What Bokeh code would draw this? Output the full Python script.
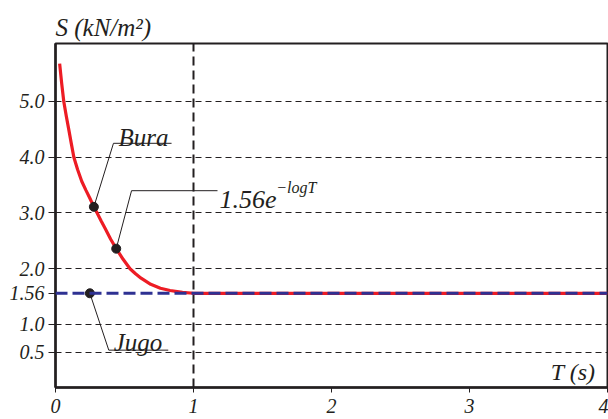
from bokeh.plotting import figure
from bokeh.models import Range1d, FixedTicker, Label, Span
from bokeh.embed import file_html
from bokeh.resources import INLINE

# ---- data ----
curve_T = [0.03, 0.045, 0.06, 0.078, 0.096, 0.115, 0.133, 0.16, 0.19, 0.22, 0.25, 0.278,
           0.30, 0.33, 0.36, 0.40, 0.44, 0.49, 0.54, 0.58, 0.62, 0.69, 0.76, 0.83, 0.92, 1.0, 4.0]
curve_S = [5.68, 5.32, 5.0, 4.74, 4.50, 4.24, 4.0, 3.78, 3.57, 3.41, 3.26, 3.11,
           3.01, 2.86, 2.72, 2.53, 2.36, 2.17, 2.0, 1.91, 1.83, 1.72, 1.65, 1.61, 1.575, 1.56, 1.56]
jugo_S = 1.56

x_ticks = [0, 1, 2, 3, 4]
x_tick_labels = ["0", "1", "2", "3", "4"]
y_ticks = [0.5, 1.0, 1.56, 2.0, 3.0, 4.0, 5.0]
y_tick_labels = ["0.5", "1.0", "1.56", "2.0", "3.0", "4.0", "5.0"]
grid_S = [0.5, 1.0, 2.0, 3.0, 4.0, 5.0]
grid_T = [1]

marker_T = [0.278, 0.44, 0.249]
marker_S = [3.11, 2.36, 1.56]

# annotation leaders (data coords)
bura_leader_T = [0.278, 0.42, 0.841]
bura_leader_S = [3.11, 4.25, 4.25]
formula_leader_T = [0.44, 0.551, 1.174]
formula_leader_S = [2.36, 3.40, 3.40]
jugo_leader_T = [0.249, 0.386, 0.817]
jugo_leader_S = [1.56, 0.54, 0.54]

FONT = "Liberation Serif"
INK = "#231f20"
RED = "#ed1c24"
BLUE = "#2e3192"

p = figure(width=608, height=419, output_backend="svg", toolbar_location=None,
           x_range=Range1d(0, 4), y_range=Range1d(-0.13, 6.04),
           min_border_left=55, min_border_right=1, min_border_top=43, min_border_bottom=32)
p.background_fill_color = "white"
p.border_fill_color = "white"
p.outline_line_color = INK
p.outline_line_width = 2

# title
p.title.text = "S (kN/m²)"
p.title.align = "left"
p.title.text_font = FONT
p.title.text_font_style = "italic"
p.title.text_font_size = "25px"
p.title.text_color = INK
p.title.offset = 0
p.title.standoff = 6

# axes
for ax in (p.xaxis[0], p.yaxis[0]):
    ax.axis_line_color = INK
    ax.axis_line_width = 2.5
    ax.major_tick_line_color = INK
    ax.major_tick_line_width = 1
    ax.major_tick_in = 0
    ax.minor_tick_line_color = None
    ax.major_label_text_font = FONT
    ax.major_label_text_font_style = "italic"
    ax.major_label_text_font_size = "20px"
    ax.major_label_text_color = INK

p.xaxis.ticker = FixedTicker(ticks=x_ticks)
p.xaxis.major_label_overrides = {t: l for t, l in zip(x_ticks, x_tick_labels)}
p.xaxis.major_tick_out = 5
p.xaxis.major_label_standoff = 6

p.yaxis.ticker = FixedTicker(ticks=y_ticks)
p.yaxis.major_label_overrides = {t: l for t, l in zip(y_ticks, y_tick_labels)}
p.yaxis.major_tick_out = 7
p.yaxis.major_label_standoff = 4

# grids
p.ygrid.ticker = FixedTicker(ticks=grid_S)
p.ygrid.grid_line_color = INK
p.ygrid.grid_line_width = 1
p.ygrid.grid_line_dash = "6 4"
p.xgrid.ticker = FixedTicker(ticks=grid_T)
p.xgrid.grid_line_color = INK
p.xgrid.grid_line_width = 2
p.xgrid.grid_line_dash = "9 5"

# curve
p.line(curve_T, curve_S, line_color=RED, line_width=3.2, line_join="round")

# Jugo level
p.add_layout(Span(location=jugo_S, dimension="width", line_color=BLUE,
                  line_width=3, line_dash="12 5"))

# leaders
for lt, ls in ((bura_leader_T, bura_leader_S), (formula_leader_T, formula_leader_S),
               (jugo_leader_T, jugo_leader_S)):
    p.line(lt, ls, line_color=INK, line_width=1)

p.scatter(marker_T, marker_S, size=9, color=INK)

def lab(x, y, text, size, align="left"):
    p.add_layout(Label(x=x, y=y, text=text, text_font=FONT, text_font_style="italic",
                       text_font_size=size, text_color=INK, text_align=align,
                       text_baseline="alphabetic"))

lab(0.638, 4.36, "Bura", "25px", "center")
lab(1.188, 3.25, "1.56e", "26px")
lab(1.600, 3.46, "\u2212logT", "16px")
lab(0.598, 0.67, "Jugo", "25px", "center")
lab(3.913, 0.14, "T (s)", "24px", "right")

open("out.html", "w").write(file_html(p, INLINE))
